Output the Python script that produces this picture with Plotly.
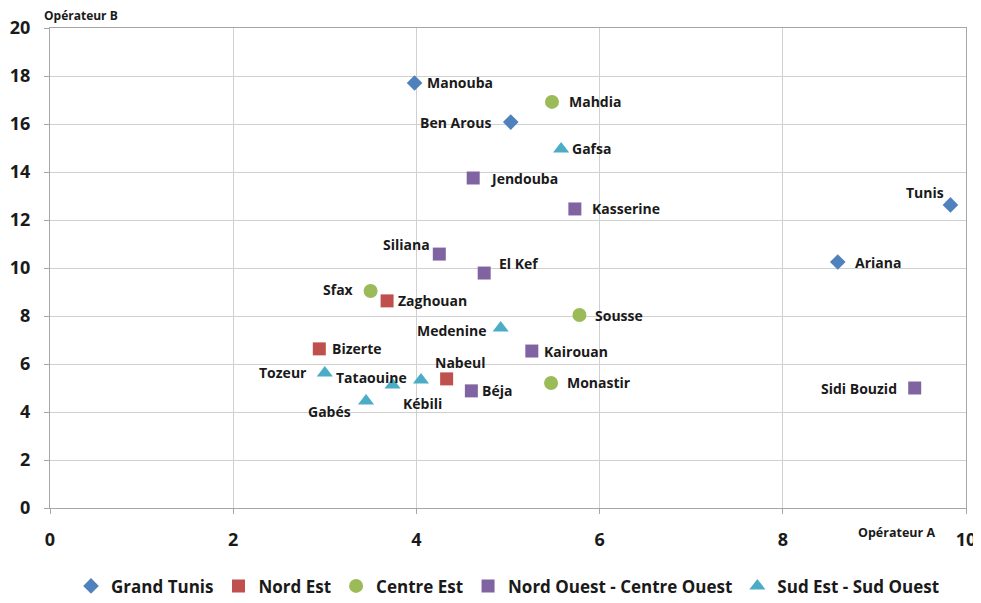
import plotly.graph_objects as go

# ---- data ----
series_names = ["Grand Tunis", "Nord Est", "Centre Est", "Nord Ouest - Centre Ouest", "Sud Est - Sud Ouest"]

grand_tunis_names = ["Manouba", "Ben Arous", "Tunis", "Ariana"]
grand_tunis_x = [3.98, 5.03, 9.83, 8.60]
grand_tunis_y = [17.71, 16.08, 12.63, 10.25]

nord_est_names = ["Zaghouan", "Bizerte", "Nabeul"]
nord_est_x = [3.68, 2.94, 4.33]
nord_est_y = [8.63, 6.63, 5.38]

centre_est_names = ["Mahdia", "Sfax", "Sousse", "Monastir"]
centre_est_x = [5.48, 3.50, 5.78, 5.47]
centre_est_y = [16.92, 9.04, 8.04, 5.21]

nord_ouest_names = ["Jendouba", "Kasserine", "Siliana", "El Kef", "Kairouan", "Béja", "Sidi Bouzid"]
nord_ouest_x = [4.62, 5.73, 4.25, 4.74, 5.26, 4.60, 9.44]
nord_ouest_y = [13.75, 12.46, 10.58, 9.79, 6.54, 4.88, 5.00]

sud_names = ["Gafsa", "Medenine", "Tozeur", "Tataouine", "Kébili", "Gabés"]
sud_x = [5.58, 4.92, 3.00, 3.74, 4.05, 3.45]
sud_y = [14.96, 7.50, 5.63, 5.13, 5.33, 4.46]

x_ticks = [0, 2, 4, 6, 8, 10]
y_ticks = [0, 2, 4, 6, 8, 10, 12, 14, 16, 18, 20]

# ---- styling ----
colors = ["#4F81BD", "#C0504D", "#9BBB59", "#8064A2", "#4BACC6"]
symbols = ["diamond", "square", "circle", "square", "triangle-up"]
sizes = [12, 13, 14, 13, 14]

# label placement: (xanchor, xshift, yshift)
label_place = {
    "Manouba": ("left", 10, 0), "Ben Arous": ("right", -18, 0), "Tunis": ("right", -4, 12),
    "Ariana": ("left", 15, 0), "Zaghouan": ("left", 9, 0), "Bizerte": ("left", 11, 0),
    "Nabeul": ("center", 13, 16), "Mahdia": ("left", 15, 0), "Sfax": ("right", -15, 2),
    "Sousse": ("left", 14, 0), "Monastir": ("left", 14, 0), "Jendouba": ("left", 15, 0),
    "Kasserine": ("left", 15, 0), "Siliana": ("right", -7, 10), "El Kef": ("left", 13, 10),
    "Kairouan": ("left", 10, 0), "Béja": ("left", 9, 0), "Sidi Bouzid": ("right", -16, 0),
    "Gafsa": ("left", 9, 0), "Medenine": ("right", -12, -2), "Tozeur": ("right", -16, 0),
    "Tataouine": ("right", 16, 7), "Kébili": ("center", 2, -23), "Gabés": ("right", -13, -11),
}

FONT = "Open Sans"
TXT = "#1a1a1a"

groups = [
    (grand_tunis_names, grand_tunis_x, grand_tunis_y),
    (nord_est_names, nord_est_x, nord_est_y),
    (centre_est_names, centre_est_x, centre_est_y),
    (nord_ouest_names, nord_ouest_x, nord_ouest_y),
    (sud_names, sud_x, sud_y),
]

fig = go.Figure()
annotations = []
for i, (names, xs, ys) in enumerate(groups):
    fig.add_trace(go.Scatter(
        x=xs, y=ys, mode="markers", name=series_names[i],
        marker=dict(color=colors[i], symbol=symbols[i], size=sizes[i], line=dict(width=0)),
        text=names, hoverinfo="text+x+y",
    ))
    for n, xv, yv in zip(names, xs, ys):
        anc, xs_, ys_ = label_place[n]
        annotations.append(dict(
            x=xv, y=yv, xref="x", yref="y", text=n, showarrow=False,
            xanchor=anc, yanchor="middle", xshift=xs_, yshift=ys_,
            font=dict(family=FONT, size=14, color=TXT, weight="bold"),
        ))

annotations.append(dict(
    text="Opérateur B", xref="paper", yref="paper", x=-0.009, y=1.026,
    xanchor="left", yanchor="middle", showarrow=False,
    font=dict(family=FONT, size=12, color=TXT, weight="bold"),
))
annotations.append(dict(
    text="Opérateur A", xref="paper", yref="paper", x=0.968, y=-0.05,
    xanchor="right", yanchor="middle", showarrow=False,
    font=dict(family=FONT, size=12.5, color=TXT, weight="bold"),
))

# the page body has an 8px margin, so the figure is sized/offset to compensate
fig.update_layout(
    width=973, height=595,
    margin=dict(l=42, r=15, t=20, b=95),
    paper_bgcolor="white", plot_bgcolor="white",
    showlegend=True,
    legend=dict(
        orientation="h", x=0.5, xanchor="center",
        yref="container", y=0.028, yanchor="middle",
        font=dict(family=FONT, size=17, color=TXT, weight="bold"),
        itemwidth=30, traceorder="normal",
    ),
    annotations=annotations,
    font=dict(family=FONT, color=TXT),
)
fig.update_xaxes(
    range=[0, 10], tickvals=x_ticks, ticktext=[str(v) for v in x_ticks],
    showgrid=True, gridcolor="#D0D0D0", gridwidth=1,
    showline=True, linecolor="#A6A6A6", linewidth=1, mirror=True,
    ticks="outside", ticklen=5, tickcolor="#A6A6A6",
    ticklabelstandoff=10, automargin=False,
    tickfont=dict(family=FONT, size=18, color=TXT, weight="bold"),
    zeroline=False, fixedrange=True,
)
fig.update_yaxes(
    range=[0, 20], tickvals=y_ticks, ticktext=[str(v) for v in y_ticks],
    showgrid=True, gridcolor="#D0D0D0", gridwidth=1,
    showline=True, linecolor="#A6A6A6", linewidth=1, mirror=True,
    ticks="outside", ticklen=5, tickcolor="#A6A6A6",
    ticklabelstandoff=10, automargin=False,
    tickfont=dict(family=FONT, size=18, color=TXT, weight="bold"),
    zeroline=False, fixedrange=True,
)

fig.write_html("out.html")
